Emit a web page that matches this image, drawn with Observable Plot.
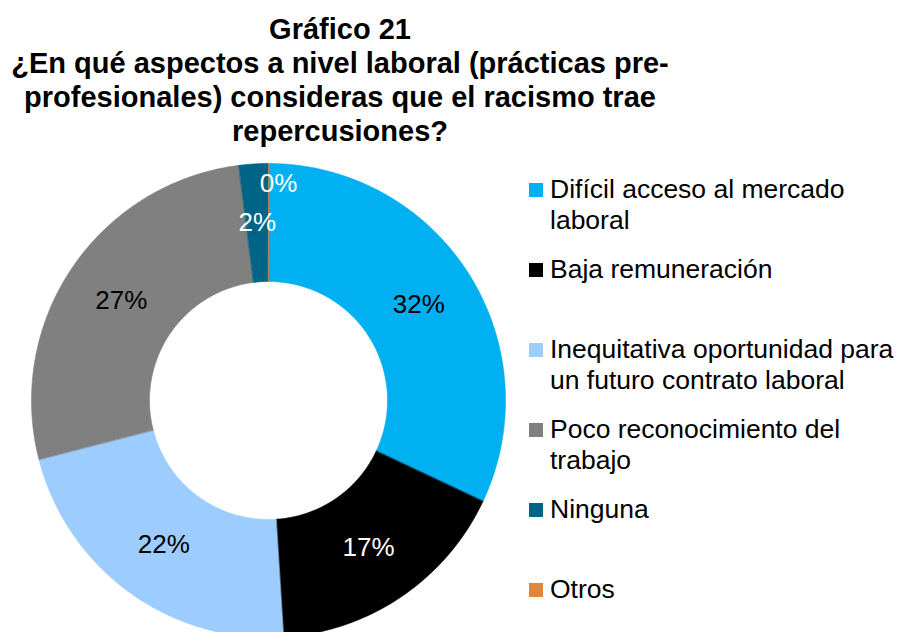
<!DOCTYPE html>
<html>
<head>
<meta charset="utf-8">
<script src="https://cdn.jsdelivr.net/npm/d3@7"></script>
<script src="https://cdn.jsdelivr.net/npm/@observablehq/plot@0.6"></script>
<style>
  html, body { margin: 0; padding: 0; background: #fff; }
  body { width: 897px; height: 632px; overflow: hidden; position: relative;
         font-family: "Liberation Sans", Arial, sans-serif; color: #000; }
  #title { position: absolute; left: 0; top: 11.5px; width: 680px; text-align: center;
           font-weight: bold; font-size: 29px; line-height: 34px; }
  #chart { position: absolute; left: 0; top: 0; }
  .item { position: absolute; left: 550px; width: 347px; font-size: 26.5px; line-height: 31px; }
  .sw { position: absolute; left: -21px; top: 8.75px; width: 14px; height: 14px; }
</style>
</head>
<body>
<div id="chart"></div>
<div id="title">Gráfico 21<br>¿En qué aspectos a nivel laboral (prácticas pre-<br>profesionales) consideras que el racismo trae<br>repercusiones?</div>
<div id="legend"></div>
<script>
const categories = [
  "Difícil acceso al mercado laboral",
  "Baja remuneración",
  "Inequitativa oportunidad para un futuro contrato laboral",
  "Poco reconocimiento del trabajo",
  "Ninguna",
  "Otros"
];
const values = [32, 17, 22, 27, 2, 0];
const colors = ["#00B0F0", "#000000", "#9DCCFF", "#808080", "#006486", "#E0873C"];
const labelColors = ["#000", "#fff", "#000", "#000", "#fff", "#fff"];

const rows = categories.map((c, i) => ({category: c, value: values[i], labelColor: labelColors[i]}));
const arcs = d3.pie().sort(null).value(d => d.value).startAngle(0).endAngle(2 * Math.PI)(rows);

const inner = 119 / 237;
const steps = 90;
const pts = [];
arcs.forEach(a => {
  const n = Math.max(2, Math.ceil((a.endAngle - a.startAngle) / (2 * Math.PI) * steps * 4));
  for (let k = 0; k <= n; k++) {
    const t = a.startAngle + (a.endAngle - a.startAngle) * k / n;
    pts.push({category: a.data.category, x: Math.sin(t), y: Math.cos(t)});
  }
  for (let k = n; k >= 0; k--) {
    const t = a.startAngle + (a.endAngle - a.startAngle) * k / n;
    pts.push({category: a.data.category, x: inner * Math.sin(t), y: inner * Math.cos(t)});
  }
});

const mid = (1 + inner) / 2;
const labels = arcs.map(a => {
  const t = (a.startAngle + a.endAngle) / 2;
  const r = a.data.value === 0 ? 0.916 : mid;
  return {text: a.data.value + "%", x: r * Math.sin(t), y: r * Math.cos(t),
          color: a.data.labelColor, zero: a.data.value === 0};
});

const font = {fontFamily: "'Liberation Sans', Arial, sans-serif", fontSize: 26};
const plot = Plot.plot({
  width: 897, height: 632,
  marginTop: 0, marginRight: 0, marginBottom: 0, marginLeft: 0,
  x: {domain: [-1, 1], range: [31, 505], axis: null},
  y: {domain: [-1, 1], range: [637, 163], axis: null},
  color: {domain: categories, range: colors},
  style: {fontFamily: "'Liberation Sans', Arial, sans-serif", background: "transparent"},
  marks: [
    Plot.line(pts, {x: "x", y: "y", z: "category", fill: "category", stroke: "category",
                    strokeWidth: 0.6, curve: "linear-closed"}),
    Plot.text(labels.filter(d => !d.zero && d.color === "#000"), {x: "x", y: "y", text: "text", fill: "#000", ...font}),
    Plot.text(labels.filter(d => !d.zero && d.color === "#fff"), {x: "x", y: "y", text: "text", fill: "#fff", ...font}),
    Plot.text(labels.filter(d => d.zero), {x: "x", y: "y", text: "text", fill: "#fff", dx: 10, ...font})
  ]
});
document.getElementById("chart").appendChild(plot);

const legend = document.getElementById("legend");
categories.forEach((c, i) => {
  const div = document.createElement("div");
  div.className = "item";
  div.style.top = (173.75 + 80 * i) + "px";
  const sw = document.createElement("span");
  sw.className = "sw";
  sw.style.background = colors[i];
  div.appendChild(sw);
  div.appendChild(document.createTextNode(c));
  legend.appendChild(div);
});
</script>
</body>
</html>
